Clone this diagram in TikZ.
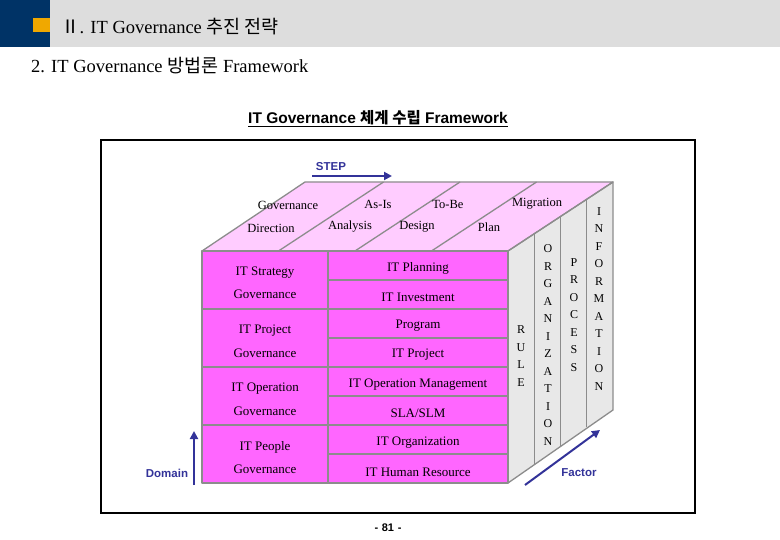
\documentclass[tikz,border=0pt]{standalone}
\usepackage{fontspec}
\setmainfont{Liberation Serif}
\setsansfont{Liberation Sans}
\newfontfamily\kr{Noto Sans CJK KR}
\usetikzlibrary{arrows.meta}
\definecolor{navy}{RGB}{0,51,102}
\definecolor{hdrorange}{RGB}{240,168,0}
\definecolor{band}{RGB}{221,221,221}
\definecolor{frontc}{RGB}{255,102,255}
\definecolor{topc}{RGB}{255,204,255}
\definecolor{sidec}{RGB}{232,232,232}
\definecolor{edgec}{RGB}{140,140,140}
\definecolor{arrblue}{RGB}{51,51,153}
\tikzset{
  cell/.style={inner sep=0pt, font=\fontsize{13}{15}\selectfont},
  toplbl/.style={inner sep=0pt, font=\fontsize{12.5}{15}\selectfont},
  vlet/.style={inner sep=0pt, align=center, font=\fontsize{12}{17.5}\selectfont},
  bluelbl/.style={inner sep=0pt, text=arrblue, font=\sffamily\bfseries\fontsize{11.5}{13}\selectfont},
  bluearrow/.style={draw=arrblue, line width=2pt, -{Triangle[length=8pt,width=8pt]}},
  edge/.style={draw=edgec, line width=1.3pt, line join=round},
}
\begin{document}
\begin{tikzpicture}[x=1pt,y=-1pt]
\useasboundingbox (0,0) rectangle (780,540);
% header
\fill[band] (50,0) rectangle (780,47);
\fill[navy] (0,0) rectangle (50,47);
\fill[hdrorange] (33,18) rectangle (50,32);
\node[anchor=west, inner sep=0pt, font=\fontsize{18.5}{20}\selectfont] (h1) at (61,27) {{\kr Ⅱ}. IT Governance {\kr 추진 전략}};
\node[anchor=west, inner sep=0pt, font=\fontsize{18.5}{20}\selectfont] (h2) at (31,66) {2. IT Governance {\kr 방법론} Framework};
% title
\node[anchor=base, inner sep=0pt, font=\sffamily\bfseries\fontsize{15.5}{17}\selectfont] (title) at (378,124) {IT Governance {\kr 체계 수립} Framework};
\draw[line width=1.4pt] ([yshift=-2.5pt]title.base west) -- ([yshift=-2.5pt]title.base east);
% frame
\draw[line width=2.5pt] (101,140) rectangle (695,513);
% cube faces
\fill[topc] (202,251) -- (305,182) -- (613,182) -- (508,251) -- cycle;
\fill[sidec] (508,251) -- (613,182) -- (613,410) -- (508,483) -- cycle;
\fill[frontc] (202,251) rectangle (508,483);
% top face dividers
\draw[edge] (278.5,251) -- (383.5,182);
\draw[edge] (355,251) -- (460,182);
\draw[edge] (431.5,251) -- (536.5,182);
% side face dividers
\draw[edge] (534.25,233.75) -- (534.25,464.25);
\draw[edge] (560.5,216.5) -- (560.5,445.5);
\draw[edge] (586.75,199.25) -- (586.75,426.75);
% front grid
\draw[edge] (328,251) -- (328,483);
\foreach \yy in {309,367,425} \draw[edge] (202,\yy) -- (508,\yy);
\foreach \yy in {280,338,396,454} \draw[edge] (328,\yy) -- (508,\yy);
% outlines
\draw[edge] (202,251) -- (305,182) -- (613,182) -- (508,251) -- cycle;
\draw[edge] (508,251) -- (613,182) -- (613,410) -- (508,483) -- cycle;
\draw[edge] (202,251) rectangle (508,483);
% top labels
\node[toplbl] (t1a) at (288,205) {Governance};
\node[toplbl] (t1b) at (271,228) {Direction};
\node[toplbl] (t2a) at (378,204) {As-Is};
\node[toplbl] (t2b) at (350,227) {Analysis};
\node[toplbl] (t3a) at (448,204) {To-Be};
\node[toplbl] (t3b) at (417,227) {Design};
\node[toplbl] (t4a) at (537,204) {Migration};
\node[toplbl] (t4b) at (489,227) {Plan};
% left column
\node[cell] (l1a) at (265,273) {IT Strategy};
\node[cell] (l1b) at (265,294) {Governance};
\node[cell] (l2a) at (265,331) {IT Project};
\node[cell] (l2b) at (265,353) {Governance};
\node[cell] (l3a) at (265,389) {IT Operation};
\node[cell] (l3b) at (265,411) {Governance};
\node[cell] (l4a) at (265,447) {IT People};
\node[cell] (l4b) at (265,469) {Governance};
% right column
\node[cell] (r1) at (418,268) {IT Planning};
\node[cell] (r2) at (418,297) {IT Investment};
\node[cell] (r3) at (418,326) {Program};
\node[cell] (r4) at (418,355) {IT Project};
\node[cell] (r5) at (418,385) {IT Operation Management};
\node[cell] (r6) at (418,413) {SLA/SLM};
\node[cell] (r7) at (418,443) {IT Organization};
\node[cell] (r8) at (418,472) {IT Human Resource};
% side labels
\node[vlet] (rule) at (521,356) {R\\U\\L\\E};
\node[vlet] (org) at (548,345) {O\\R\\G\\A\\N\\I\\Z\\A\\T\\I\\O\\N};
\node[vlet] (proc) at (574,315) {P\\R\\O\\C\\E\\S\\S};
\node[vlet] (info) at (599,299) {I\\N\\F\\O\\R\\M\\A\\T\\I\\O\\N};
% arrows
\coordinate (stepA) at (312,176);
\coordinate (stepB) at (392,176);
\draw[bluearrow] (stepA) -- (stepB);
\node[bluelbl] (step) at (331,167) {STEP};
\coordinate (domA) at (194,485);
\coordinate (domB) at (194,431);
\draw[bluearrow] (domA) -- (domB);
\node[bluelbl] (domain) at (167,473) {Domain};
\coordinate (facA) at (525,485);
\coordinate (facB) at (600,430);
\draw[bluearrow] (facA) -- (facB);
\node[bluelbl] (factor) at (579,473) {Factor};
% page number
\node[inner sep=0pt, font=\sffamily\bfseries\fontsize{11}{12}\selectfont] (page) at (388,528) {-\,\,81\,\,-};
\end{tikzpicture}
\end{document}
